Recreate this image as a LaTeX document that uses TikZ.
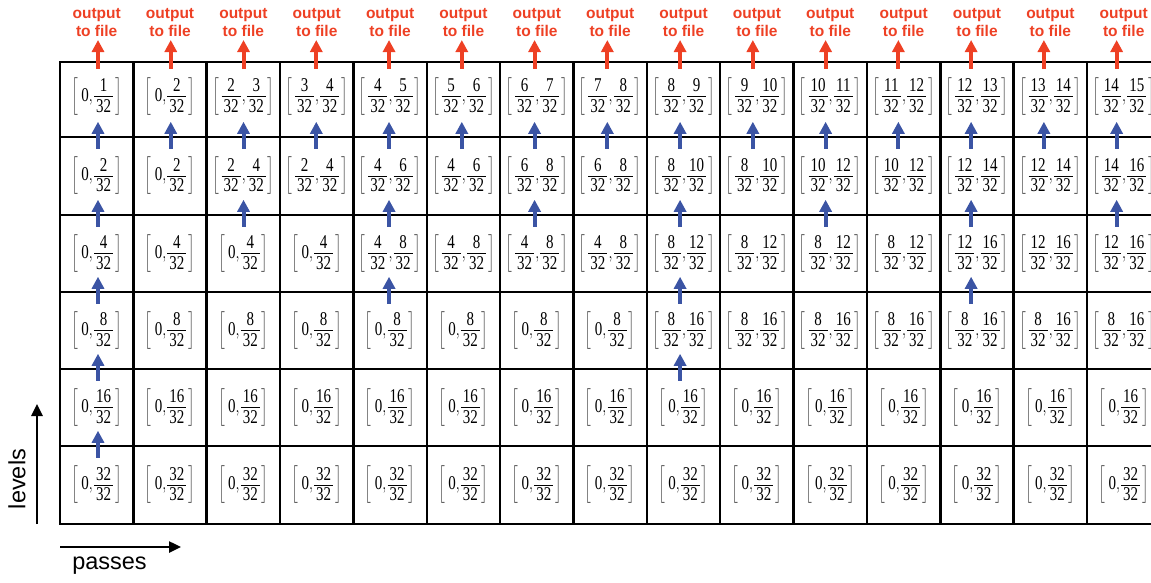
\documentclass[tikz,border=0pt]{standalone}
\usepackage{fontspec}
\setmainfont{Liberation Serif}
\newfontfamily\lsans{Liberation Sans}
\usepackage{amsmath}
\usepackage{graphicx}
\usetikzlibrary{arrows.meta}
\definecolor{arrblue}{RGB}{59,84,164}
\definecolor{arrred}{RGB}{238,64,36}
\newcommand\nmr[1]{\raisebox{-2.5pt}{#1}}
\newcommand\dnr[1]{\raisebox{1.5pt}{#1}}
\newcommand\frr[1]{\dfrac{\nmr{#1}}{\mkern2.5mu\dnr{32}\mkern2.5mu}}
\newcommand\lbr{\vcenter{\hbox{\color{black!70}\scalebox{1}[1.12]{$\Bigl[$}}}}
\newcommand\rbr{\vcenter{\hbox{\color{black!70}\scalebox{1}[1.12]{$\Bigr]$}}}}
\newcommand\zl[1]{\scalebox{1}[1.3]{$\lbr\mkern4mu\mathrm{0}{,}\frr{#1}\mkern1mu\rbr$}}
\newcommand\il[2]{\scalebox{1}[1.3]{$\lbr\mkern2mu\frr{#1}{,}\frr{#2}\mkern1mu\rbr$}}
\begin{document}
\begin{tikzpicture}[x=1pt,y=-1pt,
  cell/.style={draw, line width=2.5pt, rectangle, inner sep=0pt, minimum width=73.36pt},
  lab/.style={inner sep=0pt, font=\fontsize{15}{18}\selectfont},
  uparr/.style={draw=arrblue, line width=4pt, -{Triangle[width=12pt,length=12pt]}},
  outarr/.style={draw=arrred, line width=4pt, -{Triangle[width=12pt,length=12pt]}},
  outtxt/.style={font=\lsans\bfseries\fontsize{15.5}{18.5}\selectfont, text=arrred, align=center, inner sep=0pt},
  axisarr/.style={draw=black, line width=2.5pt, -{Triangle[width=11pt,length=12pt]}},
  axtxt/.style={font=\lsans\fontsize{23.5}{28}\selectfont, inner sep=0pt}]
\useasboundingbox (0,0) rectangle (1151,582);
% cells
\foreach \r/\t/\b in {0/62/137,1/137/215,2/215/292,3/292/369,4/369/446,5/446/524}{
  \pgfmathsetmacro\h{\b-\t}
  \pgfmathsetmacro\ym{(\t+\b)/2}
  \foreach \c in {0,...,14}{
    \node[cell, minimum height=\h pt] (c-\r-\c) at ({96.68+73.36*\c},\ym) {};
  }
}
% labels
\foreach \r/\lst in {
  0/{0/1,0/2,2/3,3/4,4/5,5/6,6/7,7/8,8/9,9/10,10/11,11/12,12/13,13/14,14/15},
  1/{0/2,0/2,2/4,2/4,4/6,4/6,6/8,6/8,8/10,8/10,10/12,10/12,12/14,12/14,14/16},
  2/{0/4,0/4,0/4,0/4,4/8,4/8,4/8,4/8,8/12,8/12,8/12,8/12,12/16,12/16,12/16},
  3/{0/8,0/8,0/8,0/8,0/8,0/8,0/8,0/8,8/16,8/16,8/16,8/16,8/16,8/16,8/16},
  4/{0/16,0/16,0/16,0/16,0/16,0/16,0/16,0/16,0/16,0/16,0/16,0/16,0/16,0/16,0/16},
  5/{0/32,0/32,0/32,0/32,0/32,0/32,0/32,0/32,0/32,0/32,0/32,0/32,0/32,0/32,0/32}}{
  \pgfmathsetmacro\dy{ifthenelse(\r==0,3,0)}
  \foreach \a/\b [count=\c from 0] in \lst {
    \node[lab] (l-\r-\c) at ([yshift=\dy pt]c-\r-\c.center) {\ifnum\a=0 \zl{\b}\else\il{\a}{\b}\fi};
  }
}
% blue arrows between levels
\foreach \r/\cols in {0/{0,1,2,3,4,5,6,7,8,9,10,11,12,13,14},1/{0,2,4,6,8,10,12,14},2/{0,4,8,12},3/{0,8},4/{0}}{
  \foreach \c in \cols {
    \pgfmathtruncatemacro\rr{\r+1}
    \pgfmathsetmacro\dx{1.32-0.6*\c}
    \draw[uparr] ([xshift=\dx pt,yshift=-13pt]c-\rr-\c.north) -- ([xshift=\dx pt,yshift=16.5pt]c-\r-\c.south);
  }
}
% output to file
\foreach \c in {0,...,14}{
  \pgfmathsetmacro\dx{1.32-0.6*\c}
  \node[outtxt, anchor=south] (o-\c) at ({96.68+73.36*\c},37) {output\\to file};
  \draw[outarr] ([xshift=\dx pt,yshift=-8pt]c-0-\c.north) -- ([xshift=\dx pt,yshift=-3pt]o-\c.south);
}
% axes
\coordinate (lv0) at (37,524);
\coordinate (lv1) at (37,404);
\draw[axisarr] (lv0) -- (lv1);
\node[axtxt, rotate=90] (levels) at (17,479) {levels};
\coordinate (ps0) at (60,547);
\coordinate (ps1) at (181,547);
\draw[axisarr] (ps0) -- (ps1);
\node[axtxt] (passes) at (109.5,566) {passes};
\end{tikzpicture}
\end{document}
